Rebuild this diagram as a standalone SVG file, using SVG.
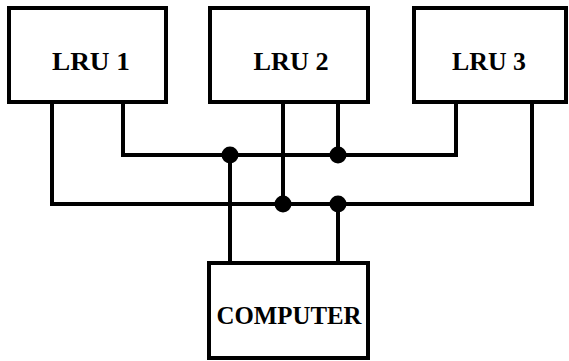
<svg xmlns="http://www.w3.org/2000/svg" width="569" height="361" viewBox="0 0 569 361">
<style>
.box{fill:#fff;stroke:#000;stroke-width:4}
.lbl{font-family:"Liberation Serif","Times New Roman",serif;font-weight:bold;font-size:26px;text-anchor:middle;fill:#000}
.wire{fill:none;stroke:#000;stroke-width:4;stroke-linejoin:miter}
.dot{fill:#000}
</style>
<rect width="569" height="361" fill="#fff"/>
<g id="connectors">
<polyline class="wire" points="52,102 52,204 532,204 532,102"/>
<polyline class="wire" points="123,102 123,155 456,155 456,102"/>
<line class="wire" x1="283" y1="102" x2="283" y2="204"/>
<line class="wire" x1="338" y1="102" x2="338" y2="155"/>
<line class="wire" x1="230" y1="263" x2="230" y2="155"/>
<line class="wire" x1="338" y1="263" x2="338" y2="204"/>
<circle class="dot" cx="230" cy="155" r="8.5"/>
<circle class="dot" cx="338" cy="155" r="8.5"/>
<circle class="dot" cx="283" cy="204" r="8.5"/>
<circle class="dot" cx="338" cy="204" r="8.5"/>
</g>
<g id="lru1">
<rect class="box" x="9" y="8" width="157" height="94"/>
<text class="lbl" x="91" y="70" textLength="78" lengthAdjust="spacingAndGlyphs">LRU 1</text>
</g>
<g id="lru2">
<rect class="box" x="210" y="8" width="158" height="94"/>
<text class="lbl" x="291" y="70" textLength="75" lengthAdjust="spacingAndGlyphs">LRU 2</text>
</g>
<g id="lru3">
<rect class="box" x="414" y="8" width="152" height="94"/>
<text class="lbl" x="489" y="70" textLength="74" lengthAdjust="spacingAndGlyphs">LRU 3</text>
</g>
<g id="computer">
<rect class="box" x="209" y="263" width="159" height="95"/>
<text class="lbl" x="289" y="324" textLength="145" lengthAdjust="spacingAndGlyphs">COMPUTER</text>
</g>
</svg>
